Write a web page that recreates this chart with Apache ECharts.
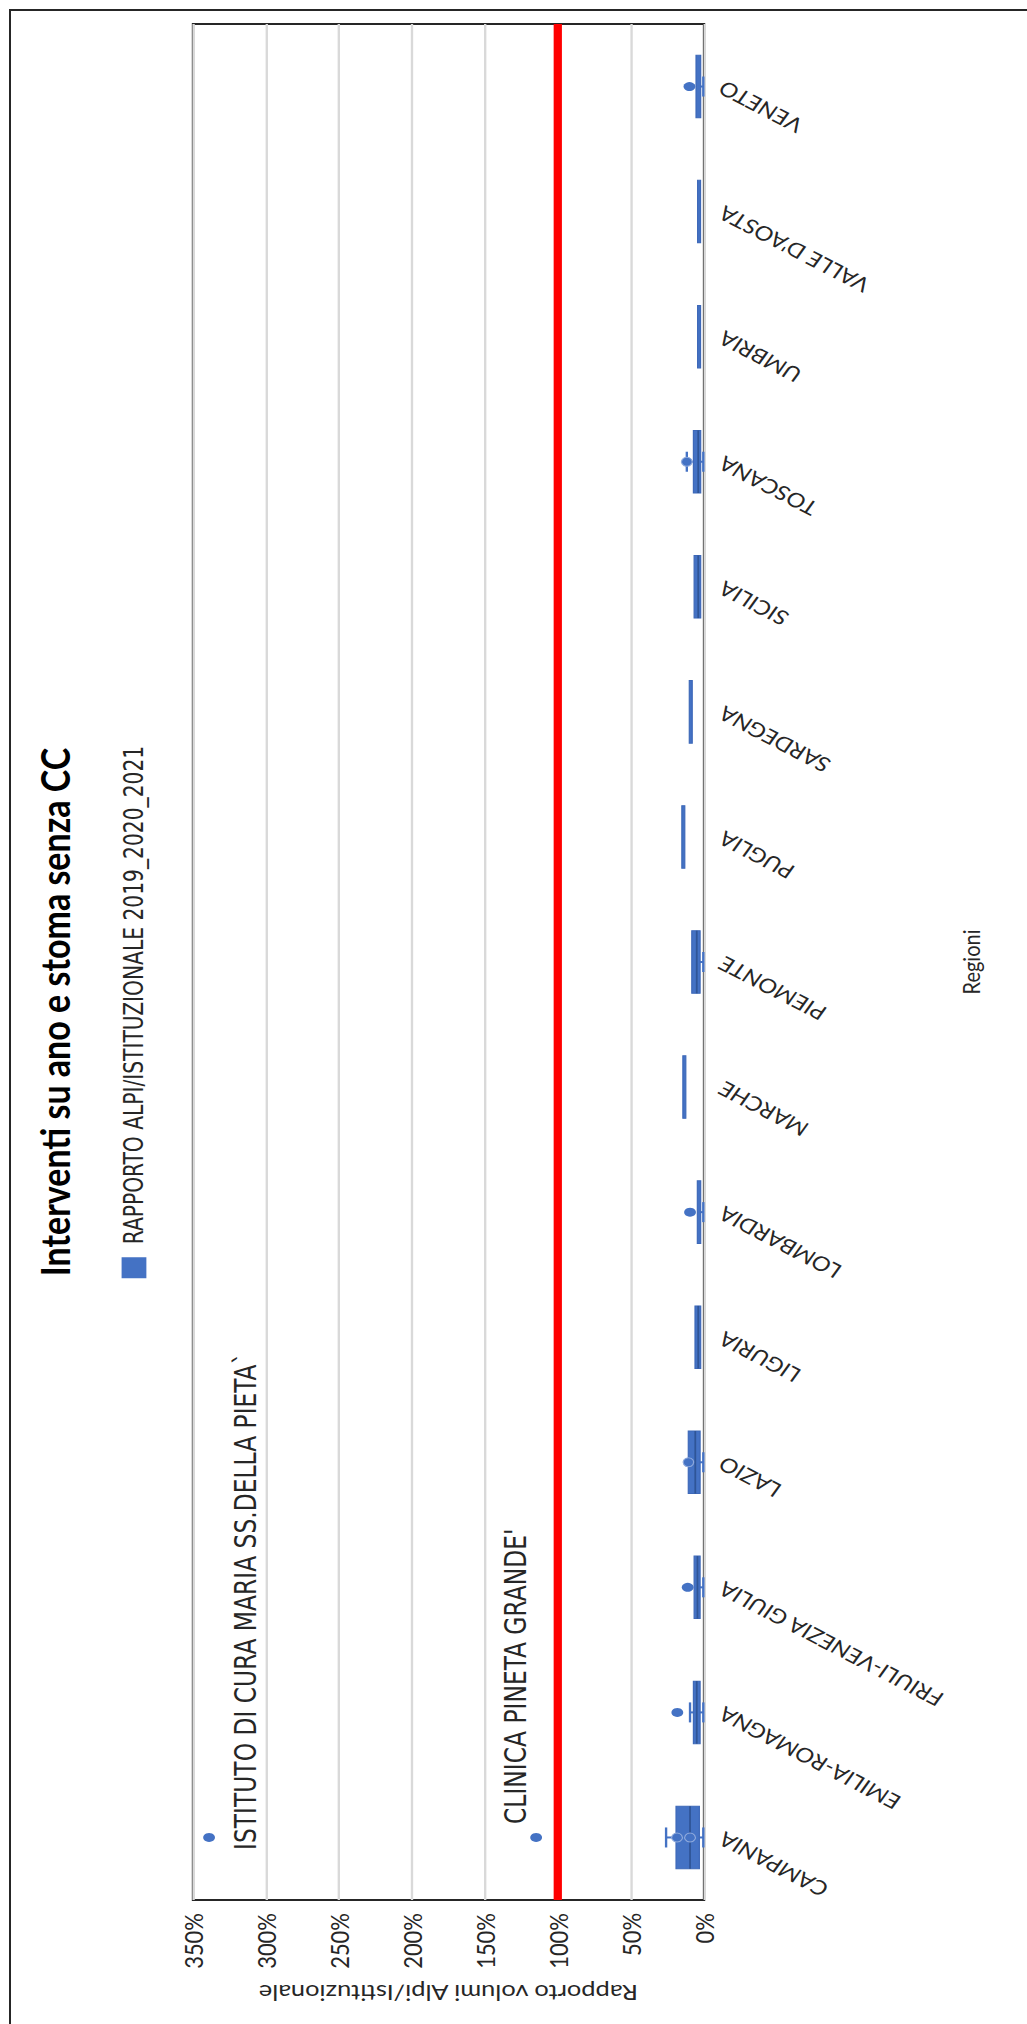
<!DOCTYPE html>
<html>
<head>
<meta charset="utf-8">
<script src="https://cdn.jsdelivr.net/npm/echarts@6/dist/echarts.min.js"></script>
<style>
  html, body { margin: 0; padding: 0; background: #fff; width: 1027px; height: 2024px; overflow: hidden; }
  #frame { position: absolute; left: 9px; top: 9px; width: 1100px; height: 2100px; z-index: 2; pointer-events: none;
           border-left: 2px solid #262626; border-top: 2px solid #262626; }
  /* the chart is drawn upright and then turned a quarter turn, as in the picture */
  #chart { position: absolute; left: 0; top: 0; width: 2024px; height: 870px; z-index: 1;
           transform-origin: 0 0; transform: translate(0, 2024px) rotate(-90deg) scaleY(1.1805); }
</style>
</head>
<body>
<div id="chart"></div>
<div id="frame"></div>
<script>
var regions = ['CAMPANIA', 'EMILIA-ROMAGNA', 'FRIULI-VENEZIA GIULIA', 'LAZIO', 'LIGURIA', 'LOMBARDIA', 'MARCHE',
  'PIEMONTE', 'PUGLIA', 'SARDEGNA', 'SICILIA', 'TOSCANA', 'UMBRIA', "VALLE D'AOSTA", 'VENETO'];

// box & whisker, rapporto (1 = 100%)
var boxMin = [0.005, 0.005, 0.005, 0.005, 0.023, 0.005, 0.135, 0.005, 0.142, 0.091, 0.023, 0.005, 0.034, 0.034, 0.005];
var boxQ1  = [0.032, 0.027, 0.027, 0.027, 0.023, 0.023, 0.135, 0.027, 0.142, 0.091, 0.023, 0.023, 0.034, 0.034, 0.023];
var boxMed = [0.096, 0.050, 0.045, 0.060, 0.040, 0.035, 0.135, 0.050, 0.142, 0.091, 0.040, 0.040, 0.034, 0.034, 0.035];
var boxQ3  = [0.192, 0.073, 0.068, 0.108, 0.062, 0.046, 0.135, 0.084, 0.142, 0.091, 0.068, 0.073, 0.034, 0.034, 0.055];
var boxMax = [0.260, 0.096, 0.068, 0.108, 0.062, 0.046, 0.135, 0.084, 0.142, 0.091, 0.068, 0.118, 0.034, 0.034, 0.055];

// valori anomali
var outCat  = ['CAMPANIA', 'CAMPANIA', 'EMILIA-ROMAGNA', 'FRIULI-VENEZIA GIULIA', 'LOMBARDIA', 'VENETO'];
var outVal  = [3.39, 1.15, 0.183, 0.112, 0.096, 0.100];
var outName = ["ISTITUTO DI CURA MARIA SS.DELLA PIETA`", "CLINICA PINETA GRANDE'", '', '', '', ''];

// punti interni
var innerCat = ['CAMPANIA', 'CAMPANIA', 'LAZIO', 'TOSCANA'];
var innerVal = [0.185, 0.096, 0.107, 0.118];

var valueTicks = [0, 0.5, 1, 1.5, 2, 2.5, 3, 3.5];
var soglia = 1; // linea rossa 100%

var serieName = 'RAPPORTO ALPI/ISTITUZIONALE 2019_2020_2021';
var blu = '#4472C4';
var narrow = "'Liberation Sans Narrow', 'Arial Narrow', 'DejaVu Sans Condensed', sans-serif";

var boxData = regions.map(function (r, i) {
  return [i, boxMin[i], boxQ1[i], boxMed[i], boxQ3[i], boxMax[i]];
});

function renderBox(params, api) {
  var c = api.value(0);
  var band = api.size([1, 0])[0];
  var half = band * 0.25, cap = band * 0.08;
  var pMin = api.coord([c, api.value(1)]);
  var pQ1 = api.coord([c, api.value(2)]);
  var pMed = api.coord([c, api.value(3)]);
  var pQ3 = api.coord([c, api.value(4)]);
  var pMax = api.coord([c, api.value(5)]);
  var x = pQ1[0];
  var top = pQ3[1], h = pQ1[1] - pQ3[1];
  if (h < 2.5) { top -= (2.5 - h) / 2; h = 2.5; }
  var ls = { stroke: blu, lineWidth: 2 };
  var kids = [];
  if (pMax[1] < pQ3[1] - 0.5) {
    kids.push({ type: 'line', shape: { x1: x, y1: pQ3[1], x2: x, y2: pMax[1] }, style: ls });
    kids.push({ type: 'line', shape: { x1: x - cap, y1: pMax[1], x2: x + cap, y2: pMax[1] }, style: ls });
  }
  if (pMin[1] > pQ1[1] + 0.5) {
    kids.push({ type: 'line', shape: { x1: x, y1: pQ1[1], x2: x, y2: pMin[1] }, style: ls });
    kids.push({ type: 'line', shape: { x1: x - cap, y1: pMin[1], x2: x + cap, y2: pMin[1] }, style: ls });
  }
  kids.push({ type: 'rect', shape: { x: x - half, y: top, width: half * 2, height: h },
    style: { fill: blu, stroke: '#3d68b8', lineWidth: 1 } });
  if (h > 4) {
    kids.push({ type: 'line', shape: { x1: x - half, y1: pMed[1], x2: x + half, y2: pMed[1] },
      style: { stroke: '#2f5597', lineWidth: 1.5 } });
  }
  return { type: 'group', children: kids };
}

var outData = outCat.map(function (c, i) {
  var d = { value: [regions.indexOf(c), outVal[i]], name: outName[i] };
  if (i === 0) d.label = { show: true, position: [-8, 36] };
  if (i === 1) d.label = { show: true, position: [18, -12] };
  return d;
});

var innerData = innerCat.map(function (c, i) { return [regions.indexOf(c), innerVal[i]]; });

var chart = echarts.init(document.getElementById('chart'), null, { renderer: 'svg' });
chart.setOption({
  animation: false,
  backgroundColor: '#fff',
  title: {
    text: 'Interventi su ano e stoma senza CC',
    left: 'center',
    top: 24,
    textStyle: { fontFamily: 'Lato', fontWeight: 'bold', fontSize: 34, color: '#000' }
  },
  legend: {
    data: [{ name: serieName, icon: 'rect' }],
    left: 'center',
    top: 97,
    itemWidth: 21,
    itemHeight: 21,
    textStyle: { fontFamily: narrow, fontSize: 22.5, color: '#262626', padding: [0, 0, 0, 8] }
  },
  grid: { left: 124, right: 24, top: 163.5, bottom: 273.6, show: true, borderColor: '#262626', borderWidth: 2 },
  xAxis: {
    type: 'category',
    data: regions,
    name: 'Regioni',
    nameLocation: 'middle',
    nameGap: 216,
    nameTextStyle: { fontFamily: 'Lato', fontSize: 20, color: '#262626' },
    axisLine: { show: false },
    axisTick: { show: false },
    axisLabel: { interval: 0, rotate: 58.5, margin: 14, fontFamily: 'Lato', fontSize: 20, color: '#262626' }
  },
  yAxis: {
    type: 'value',
    min: valueTicks[0],
    max: valueTicks[valueTicks.length - 1],
    interval: 0.5,
    name: 'Rapporto volumi Alpi/Istituzionale',
    nameLocation: 'middle',
    nameGap: 82,
    nameTextStyle: { fontFamily: 'Lato', fontSize: 21.5, color: '#262626' },
    axisLine: { show: false },
    axisTick: { show: false },
    axisLabel: { margin: 13, fontFamily: 'Lato', fontSize: 22, color: '#262626',
      formatter: function (v) { return Math.round(v * 100) + '%'; } },
    splitLine: { lineStyle: { color: '#d9d9d9', width: 2 } }
  },
  series: [
    {
      name: serieName,
      type: 'custom',
      renderItem: renderBox,
      itemStyle: { color: blu },
      encode: { x: 0, y: [1, 2, 3, 4, 5] },
      data: boxData,
      z: 3
    },
    {
      name: 'punti interni',
      type: 'scatter',
      symbolSize: 9,
      itemStyle: { color: blu, borderColor: '#8faadc', borderWidth: 1, opacity: 1 },
      data: innerData,
      z: 4
    },
    {
      name: 'valori anomali',
      type: 'scatter',
      symbolSize: [9, 10],
      itemStyle: { color: blu, opacity: 1 },
      label: {
        show: false, align: 'left', verticalAlign: 'middle',
        formatter: '{b}', fontFamily: narrow, fontSize: 26, color: '#262626'
      },
      data: outData,
      markLine: {
        silent: true,
        symbol: 'none',
        label: { show: false },
        lineStyle: { color: '#FF0000', width: 7, type: 'solid' },
        data: [{ yAxis: soglia }]
      },
      z: 5
    }
  ]
});
</script>
</body>
</html>
